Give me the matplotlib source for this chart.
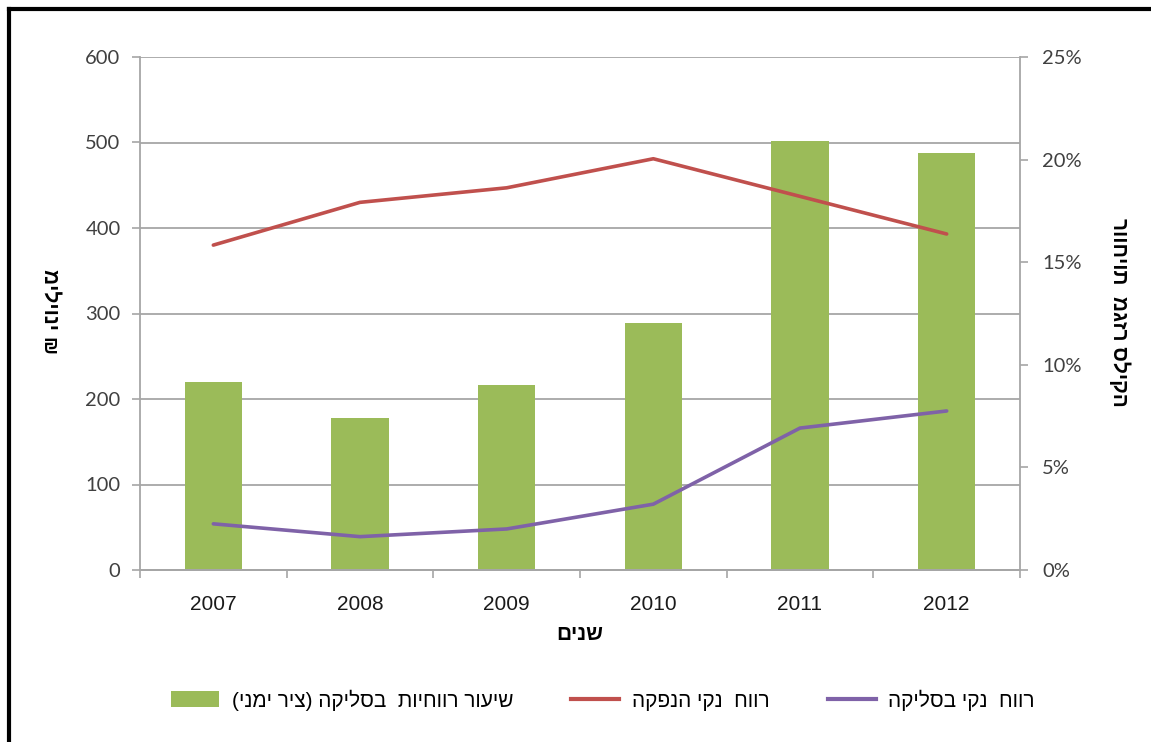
import matplotlib

matplotlib.use("Agg")
import matplotlib.pyplot as plt
from matplotlib.lines import Line2D
from matplotlib.patches import Patch
from matplotlib.ticker import FuncFormatter, MultipleLocator

plt.rcParams["font.family"] = ["Liberation Sans", "DejaVu Sans"]

years = ["2007", "2008", "2009", "2010", "2011", "2012"]
clearing_rate_pct = [9.15, 7.4, 9.0, 12.05, 20.9, 20.3]
issuance_profit = [380, 430, 447, 481, 437, 393]
clearing_profit = [54, 39, 48, 77, 166, 186]

label_rate = "שיעור רווחיות  בסליקה (ציר ימני)"
label_issuance = "רווח  נקי הנפקה"
label_clearing = "רווח  נקי בסליקה"
ylabel_left = "מיליוני ₪"
ylabel_right = "רווחיות  מגזר סליקה"
xlabel = "שנים"

GREEN = "#9BBB59"
RED = "#C0504D"
PURPLE = "#7F62A8"
GRID = "#A6A6A6"
TICK_TXT = "#404040"


def vis(s):
    # matplotlib has no bidi support: lay Hebrew out right-to-left by hand
    mirror = {"(": ")", ")": "("}
    return "".join(mirror.get(c, c) for c in s[::-1])


fig = plt.figure(figsize=(11.51, 7.42), dpi=100)
ax = fig.add_axes([140 / 1151, 1 - 570 / 742, 880 / 1151, 513 / 742])
ax2 = ax.twinx()

x = list(range(len(years)))
ax2.bar(x, clearing_rate_pct, width=0.39, color=GREEN, zorder=2)
ax2.set_ylim(0, 25)
ax2.yaxis.set_major_locator(MultipleLocator(5))
ax2.yaxis.set_major_formatter(FuncFormatter(lambda v, p: f"{v:.0f}%"))

ax.set_zorder(ax2.get_zorder() + 1)
ax.patch.set_visible(False)
ax.plot(x, issuance_profit, color=RED, lw=2.6, solid_capstyle="round")
ax.plot(x, clearing_profit, color=PURPLE, lw=2.6, solid_capstyle="round")
ax.set_ylim(0, 600)
ax.set_xlim(-0.5, len(years) - 0.5)
ax.yaxis.set_major_locator(MultipleLocator(100))

# gridlines drawn on the bar axis so they sit behind the bars
for v in range(100, 601, 100):
    ax2.axhline(v / 24, color=GRID, lw=1.3, zorder=0)

ax.set_xticks(x)
ax.set_xticklabels(years, fontsize=15, color="#1a1a1a")
ax.set_xticks([i - 0.5 for i in range(len(years) + 1)], minor=True)
ax.tick_params(axis="x", which="major", length=0, pad=18)
ax.tick_params(axis="x", which="minor", length=6, color=GRID, width=1.2)

for a in (ax, ax2):
    for s in a.spines.values():
        s.set_visible(False)
    a.spines["bottom"].set_visible(True)
    a.spines["bottom"].set_color(GRID)
    a.spines["bottom"].set_linewidth(1.3)
ax.spines["left"].set_visible(True)
ax.spines["left"].set_color(GRID)
ax.spines["left"].set_linewidth(1.3)
ax2.spines["right"].set_visible(True)
ax2.spines["right"].set_color(GRID)
ax2.spines["right"].set_linewidth(1.3)

ax.tick_params(axis="y", length=6, color=GRID, width=1.2, pad=8,
               labelsize=14.5, labelcolor=TICK_TXT)
ax2.tick_params(axis="y", length=6, color=GRID, width=1.2, pad=10,
                labelsize=14.5, labelcolor=TICK_TXT)
for t in ax.get_yticklabels() + ax2.get_yticklabels():
    t.set_family(["Lato", "DejaVu Sans"])

fig.text(50 / 1151, 1 - 312 / 742, ylabel_left, rotation=270, ha="center",
         va="center", fontsize=15, fontweight="bold")
fig.text(1120 / 1151, 1 - 312 / 742, ylabel_right, rotation=270, ha="center",
         va="center", fontsize=15, fontweight="bold")
fig.text(580 / 1151, 1 - 635 / 742, vis(xlabel), ha="center", va="center",
         fontsize=15, fontweight="bold")

handles = [
    Patch(facecolor=GREEN, edgecolor="none"),
    Line2D([], [], color=RED, lw=3),
    Line2D([], [], color=PURPLE, lw=3),
]
labels = [vis(label_rate), vis(label_issuance), vis(label_clearing)]
fig.legend(handles, labels, loc="center", bbox_to_anchor=(603 / 1151, 1 - 700 / 742),
           ncol=3, frameon=False, fontsize=15, handlelength=2.3, handleheight=0.8,
           handletextpad=0.6, columnspacing=2.8)

# outer frame (only left and top edges are visible in the crop)
fig.add_artist(Line2D([9 / 1151, 9 / 1151], [0, 1 - 9 / 742], color="black",
                      lw=3, transform=fig.transFigure))
fig.add_artist(Line2D([9 / 1151, 1], [1 - 9 / 742, 1 - 9 / 742], color="black",
                      lw=3, transform=fig.transFigure))

fig.savefig("out.png", dpi=100)
plt.close(fig)
